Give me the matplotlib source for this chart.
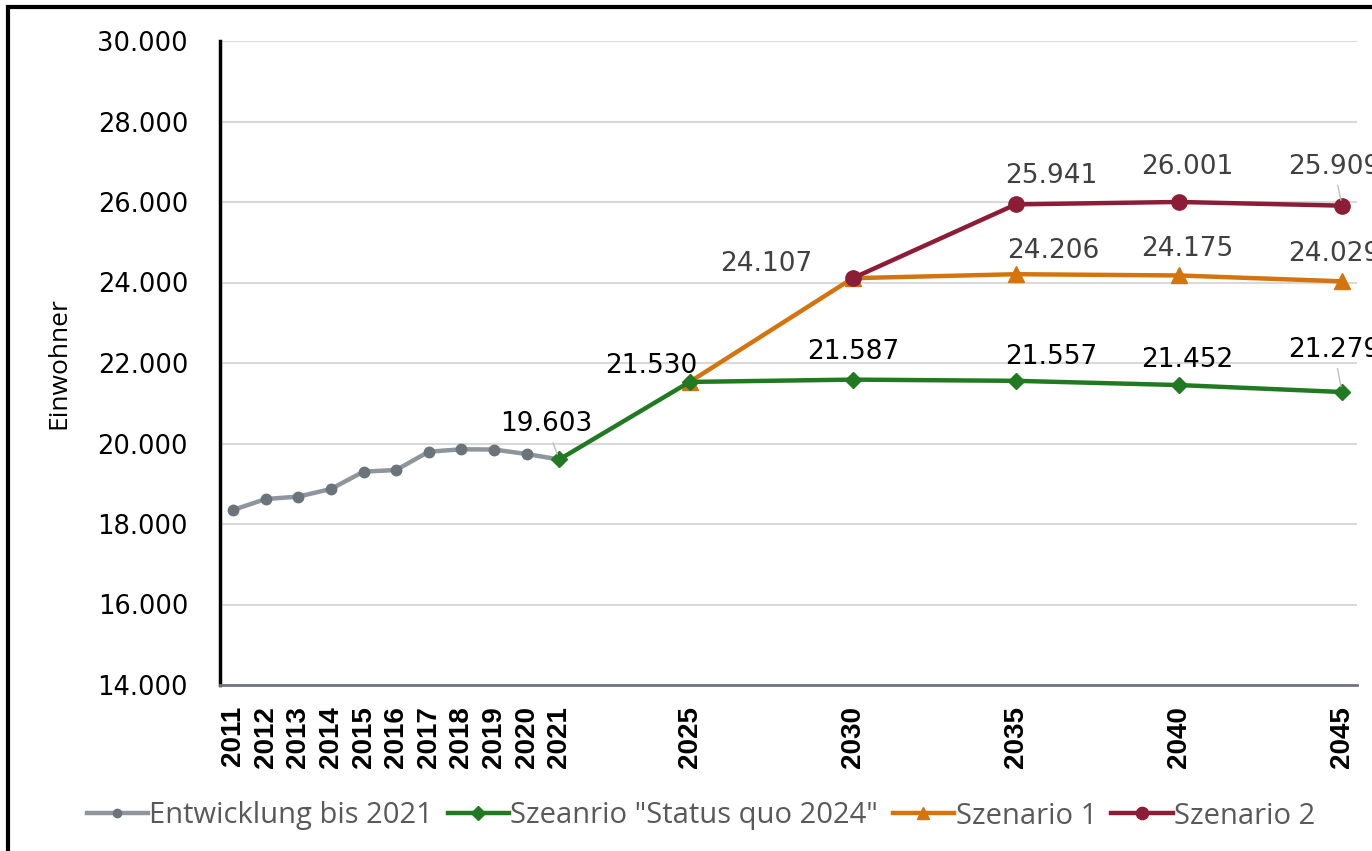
import matplotlib.pyplot as plt
from matplotlib.patches import Rectangle
from matplotlib.ticker import FuncFormatter

# Historical development
hist_years = [2011, 2012, 2013, 2014, 2015, 2016, 2017, 2018, 2019, 2020, 2021]
hist_values = [18348, 18621, 18680, 18870, 19300, 19342, 19796, 19856, 19850, 19739, 19603]

# Scenarios
quo_years = [2021, 2025, 2030, 2035, 2040, 2045]
quo_values = [19603, 21530, 21587, 21557, 21452, 21279]

s1_years = [2025, 2030, 2035, 2040, 2045]
s1_values = [21530, 24107, 24206, 24175, 24029]

s2_years = [2030, 2035, 2040, 2045]
s2_values = [24107, 25941, 26001, 25909]

tick_years = hist_years + [2025, 2030, 2035, 2040, 2045]

GRAY, GRAY_M = '#8e959c', '#6b737b'
GREEN = '#217a21'
ORANGE = '#d4740f'
RED = '#8b1d37'

fig = plt.figure(figsize=(13.72, 8.51), dpi=100)
ax = fig.add_axes([220 / 1372, 1 - 685 / 851, 1137 / 1372, 644 / 851])

ax.plot(hist_years, hist_values, color=GRAY, lw=3.2, marker='o', ms=7.5,
        mfc=GRAY_M, mec=GRAY_M, label='Entwicklung bis 2021', zorder=3)
ax.plot(quo_years, quo_values, color=GREEN, lw=3.2, marker='D', ms=8.5,
        label='Szeanrio "Status quo 2024"', zorder=4)
ax.plot(s1_years, s1_values, color=ORANGE, lw=3.2, marker='^', ms=11,
        label='Szenario 1', zorder=3)
ax.plot(s2_years, s2_values, color=RED, lw=3.2, marker='o', ms=11,
        label='Szenario 2', zorder=3)

ax.set_xlim(2010.6, 2045.46)
ax.set_ylim(14000, 30000)
ax.set_yticks(range(14000, 30001, 2000))
ax.yaxis.set_major_formatter(FuncFormatter(lambda v, p: f'{v:,.0f}'.replace(',', '.')))
ax.set_xticks(tick_years)
ax.set_xticklabels([str(y) for y in tick_years], rotation=90,
                   fontsize=20, fontweight='bold', family='Liberation Sans')
ax.tick_params(axis='x', length=0, pad=15)
ax.tick_params(axis='y', length=0, pad=23, labelsize=18.5)

ax.grid(axis='y', color='#d9d9d9', lw=1.5)
ax.set_axisbelow(True)
for s in ['top', 'right']:
    ax.spines[s].set_visible(False)
ax.spines['left'].set_linewidth(2.5)
ax.spines['left'].set_color('black')
ax.spines['bottom'].set_linewidth(2)
ax.spines['bottom'].set_color('#6f757b')

ax.set_ylabel('Einwohner', fontsize=19, family='Open Sans', labelpad=19)


def fmt(v):
    return f'{v:,.0f}'.replace(',', '.')


# data labels with pixel offsets (dx, dy, leader line)
quo_off = [(-13, 35, True), (-38, 16, False), (0, 28, False), (35, 24, False),
           (8, 25, False), (-8, 42, True)]
s1_off = [None, (-87, 14, False), (37, 23, False), (8, 26, False), (-8, 27, False)]
s2_off = [None, (35, 28, False), (8, 35, False), (-8, 39, True)]

for years, values, offs, col in [(quo_years, quo_values, quo_off, 'black'),
                                  (s1_years, s1_values, s1_off, '#404040'),
                                  (s2_years, s2_values, s2_off, '#404040')]:
    for x, y, off in zip(years, values, offs):
        if off is None:
            continue
        dx, dy, lead = off
        arrow = dict(arrowstyle='-', color='#bfbfbf', lw=1, shrinkA=2, shrinkB=4) if lead else None
        ax.annotate(fmt(y), (x, y), xytext=(dx, dy), textcoords='offset pixels',
                    ha='center', va='center', fontsize=19, color=col,
                    arrowprops=arrow, zorder=5, annotation_clip=False)

fig.legend(loc='center', bbox_to_anchor=(701 / 1372, 1 - 816 / 851), ncol=4, frameon=False,
           prop={'family': 'Open Sans', 'size': 21}, labelcolor='#595959',
           handlelength=2.1, handletextpad=0.05, columnspacing=0.5, markerscale=0.8)

# outer frame
fig.patches.append(Rectangle((8 / 1372, -0.1), 1.2, 1.1 - 7 / 851,
                             transform=fig.transFigure, fill=False,
                             edgecolor='black', lw=3, zorder=0))

fig.savefig('out.png', dpi=100)
